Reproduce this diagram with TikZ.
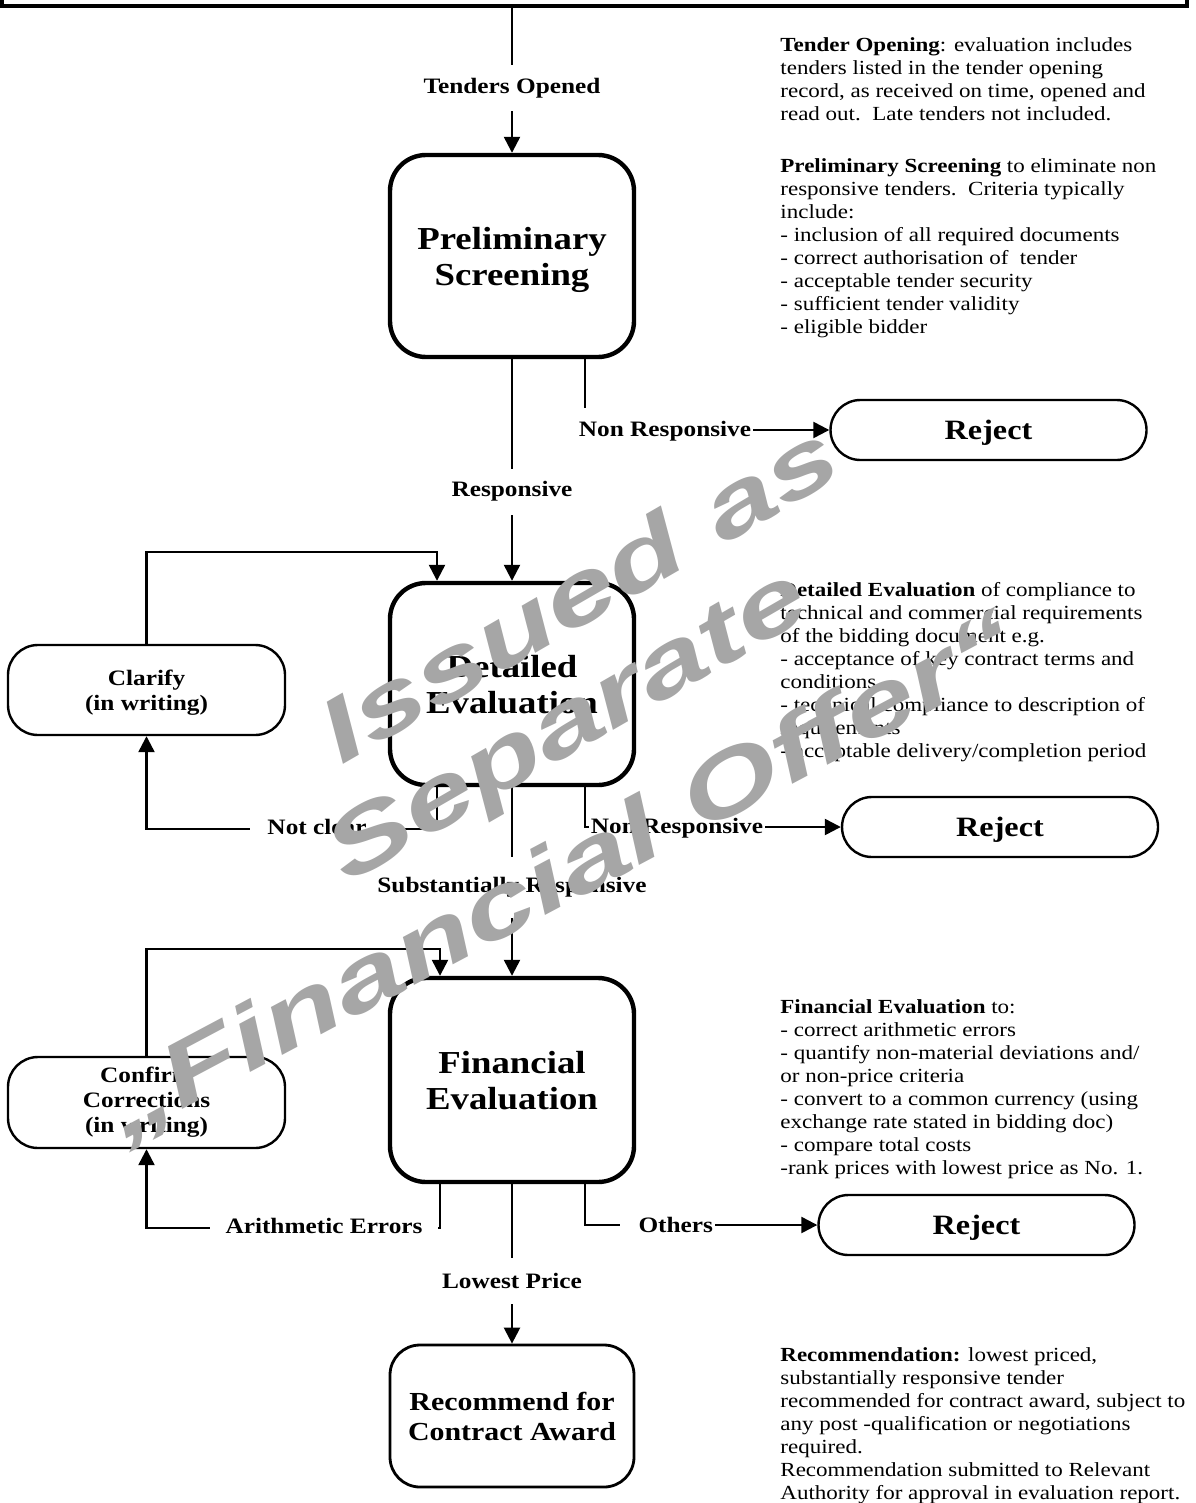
\documentclass[tikz,border=0pt]{standalone}
\usepackage{fontspec}
\setmainfont[FakeStretch=1.15]{Liberation Serif}
\newfontfamily\markfont[FakeStretch=1.42]{Liberation Sans}
\usetikzlibrary{arrows.meta}

\begin{document}
\begin{tikzpicture}[x=0.5pt, y=-0.5pt,
  stage/.style = {draw, line width=2.2pt, rounded corners=18pt, minimum width=122pt, minimum height=101pt, align=center, text depth=0pt, font=\fontsize{16}{18}\selectfont\bfseries},
  side/.style = {draw, line width=1.2pt, rounded corners=15pt, minimum width=138.5pt, minimum height=45pt, align=center, font=\fontsize{11}{12.5}\selectfont\bfseries},
  reject/.style = {draw, line width=1.2pt, rounded corners=15pt, minimum width=158pt, minimum height=30pt, text depth=0pt, font=\fontsize{14}{16}\selectfont\bfseries},
  tag/.style = {fill=white, inner xsep=1pt, inner ysep=0pt, minimum height=23pt, font=\fontsize{11}{12}\selectfont\bfseries},
  note/.style = {anchor=north west, inner sep=0pt, align=left, font=\fontsize{10}{11.5}\selectfont},
  link/.style = {line width=1.2pt, -{Triangle[length=8pt, width=8pt]}},
  wmark/.style = {rotate=30, text=wm, font=\markfont\fontsize{45}{45}\bfseries\itshape}]

  \colorlet{wm}{black!35}
  \useasboundingbox (0,0) rectangle (1195,1503);

  \node[draw, line width=1.8pt, minimum width=592.5pt, minimum height=40pt, anchor=south] (opening) at (594.5,8) {};
  \node[stage] (prelim) at (512,256) {Preliminary\\Screening};
  \node[stage] (detail) at (512,684) {Detailed\\Evaluation};
  \node[stage, minimum height=102pt] (finance) at (512,1080) {Financial\\Evaluation};
  \node[stage, line width=1.4pt, minimum height=71pt, rounded corners=15pt, font=\fontsize{13}{15}\selectfont\bfseries] (award) at (512,1416) {Recommend for\\Contract Award};
  \node[side, text depth=0pt] (clarify) at (146.5,690) {Clarify\\(in writing)};
  \node[side, minimum height=45.5pt] (confirm) at (146.5,1102.5) {Confirm\\Corrections\\(in writing)};

  \foreach \n/\x/\y in {1/988.5/430, 2/1000/827, 3/976.5/1225}
    \node[reject] (reject\n) at (\x,\y) {Reject};

  % main line
  \draw[link] (opening.south -| prelim.north) -- (prelim.north);
  \draw[link] (prelim.south) -- (detail.north);
  \draw[link] (detail.south) -- (finance.north);
  \draw[link] (finance.south) -- (award.north);

  % branches
  \draw[link] ([xshift=36.5pt]prelim.south) |- (reject1.west);
  \draw[link] ([xshift=36.5pt]detail.south) |- (reject2.west);
  \draw[link] ([xshift=36.5pt]finance.south) |- (reject3.west);
  \draw[link] ([xshift=-37.5pt]detail.south) -- ++(0,42) -| (clarify.south);
  \draw[link] (clarify.north) -- ++(0,-92) -| ([xshift=-37.5pt]detail.north);
  \draw[link] ([xshift=-36pt]finance.south) -- ++(0,44) -| (confirm.south);
  \draw[link] (confirm.north) -- ++(0,-107) -| ([xshift=-36pt]finance.north);

  % labels drawn after the lines
  \node[tag] (lopen) at (512,88.5) {Tenders Opened};
  \node[tag] (lresp) at (512,491.5) {Responsive};
  \node[tag, minimum height=30.5pt] (lsubst) at (512,887.5) {Substantially Responsive};
  \node[tag] (llow) at (512,1281) {Lowest Price};
  \node[tag] (lnon1) at (665,431) {Non Responsive};
  \node[tag, minimum height=15pt] (lnon2) at (677,828) {Non Responsive};
  \node[tag, minimum width=67pt] (lclear) at (317,827) {Not clear};
  \node[tag, minimum width=114pt] (lerror) at (324,1226) {Arithmetic Errors};
  \node[tag, text width=45.5pt, align=right] (lother) at (667.5,1225) {Others};

  \node[note] (nopen) at (780,37) {\textbf{Tender Opening}: evaluation includes\\
    tenders listed in the tender opening\\
    record, as received on time, opened and\\
    read out.\ \ Late tenders not included.};
  \node[note] (nprelim) at (780,158) {\textbf{Preliminary Screening} to eliminate non\\
    responsive tenders.\ \ Criteria typically\\
    include:\\
    - inclusion of all required documents\\
    - correct authorisation of\ \ tender\\
    - acceptable tender security\\
    - sufficient tender validity\\
    - eligible bidder};
  \node[note] (ndetail) at (780,582) {\textbf{Detailed Evaluation} of compliance to\\
    technical and commercial requirements\\
    of the bidding document e.g.\\
    - acceptance of key contract terms and\\
    conditions\\
    - technical compliance to description of\\
    requirements\\
    - acceptable delivery/completion period};
  \node[note] (nfinance) at (780,999) {\textbf{Financial Evaluation} to:\\
    - correct arithmetic errors\\
    - quantify non-material deviations and/\\
    or non-price criteria\\
    - convert to a common currency (using\\
    exchange rate stated in bidding doc)\\
    - compare total costs\\
    -rank prices with lowest price as No. 1.};
  \node[note] (naward) at (780,1347) {\textbf{Recommendation:} lowest priced,\\
    substantially responsive tender\\
    recommended for contract award, subject to\\
    any post -qualification or negotiations\\
    required.\\
    Recommendation submitted to Relevant\\
    Authority for approval in evaluation report.};

  % watermark on top
  \node[wmark] (issued) at (578,592) {Issued as};
  \node[wmark] (separate) at (570,730) {Separate};
  \node[wmark, rotate=-2] (offer) at (562,878) {„Financial Offer“};
\end{tikzpicture}
\end{document}
